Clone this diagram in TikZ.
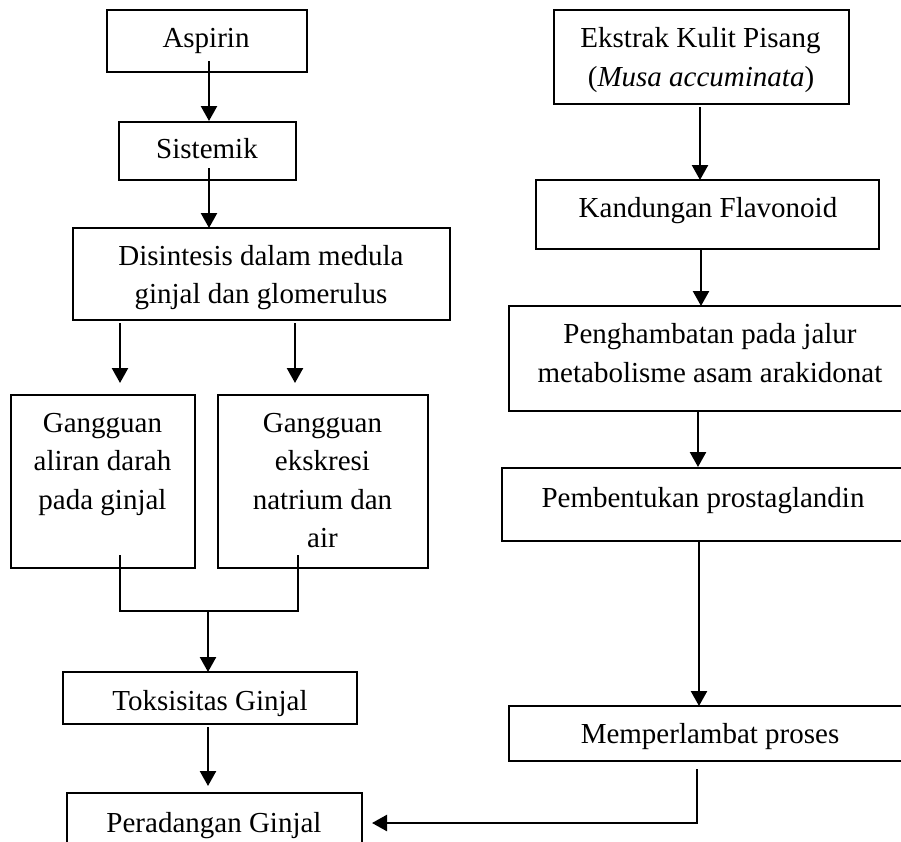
\documentclass[tikz,border=0pt]{standalone}
\usepackage{fontspec}
\setmainfont{Liberation Serif}
\usetikzlibrary{arrows.meta,calc}
\begin{document}
\begin{tikzpicture}[x=1pt,y=-1pt,
  box/.style={draw=black,line width=2.2pt,inner sep=0pt,outer sep=0pt,rectangle},
  txt/.style={anchor=base,inner sep=0pt,font=\fontsize{29}{38}\selectfont},
  arr/.style={line width=2.4pt,-{Triangle[width=16pt,length=15pt]}},
  ln/.style={line width=2.4pt}]
\useasboundingbox (0,0) rectangle (901,841);
\clip (0,0) rectangle (901,841);
% left column boxes
\node[box,minimum width=200pt,minimum height=62pt] (asp) at (207,41) {};
\node[box,minimum width=177pt,minimum height=58pt] (sis) at (207.5,151) {};
\node[box,minimum width=377pt,minimum height=92pt] (dis) at (261.5,274) {};
\node[box,minimum width=184pt,minimum height=173pt] (g1) at (103,481.5) {};
\node[box,minimum width=210pt,minimum height=173pt] (g2) at (323,481.5) {};
\node[box,minimum width=294pt,minimum height=52pt] (tok) at (210,698) {};
\node[box,minimum width=295pt,minimum height=60pt] (per) at (214.5,823) {};
% right column boxes
\node[box,minimum width=295pt,minimum height=94pt] (eks) at (701.5,57) {};
\node[box,minimum width=343pt,minimum height=69pt] (kan) at (707.5,214.5) {};
\node[box,minimum width=411pt,minimum height=105pt] (pen) at (714.5,358.5) {};
\node[box,minimum width=418pt,minimum height=73pt] (pem) at (711,504.5) {};
\node[box,minimum width=411pt,minimum height=55pt] (mem) at (714.5,733.5) {};
% texts
\node[txt] (tasp) at (206,47) {Aspirin};
\node[txt] (tsis) at (207,158) {Sistemik};
\node[txt] (tdis1) at (261,265) {Disintesis dalam medula};
\node[txt] (tdis2) at (261,303) {ginjal dan glomerulus};
\node[txt] (tg1a) at (102.5,432) {Gangguan};
\node[txt] (tg1b) at (102.5,470.5) {aliran darah};
\node[txt] (tg1c) at (102.5,509) {pada ginjal};
\node[txt] (tg2a) at (322.5,432) {Gangguan};
\node[txt] (tg2b) at (322.5,470.5) {ekskresi};
\node[txt] (tg2c) at (322.5,509) {natrium dan};
\node[txt] (tg2d) at (322.5,547.5) {air};
\node[txt] (ttok) at (210,710) {Toksisitas Ginjal};
\node[txt] (tper) at (214,832) {Peradangan Ginjal};
\node[txt] (teks1) at (700.5,47) {Ekstrak Kulit Pisang};
\node[txt] (teks2) at (701,86) {(\textit{Musa accuminata})};
\node[txt] (tkan) at (708,217) {Kandungan Flavonoid};
\node[txt] (tpen1) at (710,343) {Penghambatan pada jalur};
\node[txt] (tpen2) at (710,382) {metabolisme asam arakidonat};
\node[txt] (tpem) at (703,507) {Pembentukan prostaglandin};
\node[txt] (tmem) at (710,743) {Memperlambat proses};
% connectors left
\draw[arr] ($(asp.south)+(2,-11)$) -- ($(sis.north)+(1.5,-1)$);
\draw[arr] ($(sis.south)+(1.5,-12)$) -- ($(sis.south |- dis.north)+(1.5,0)$);
\draw[arr] ($(g1.north |- dis.south)+(17,3)$) -- ($(g1.north)+(17,-12)$);
\draw[arr] ($(g2.north |- dis.south)+(-28,3)$) -- ($(g2.north)+(-28,-12)$);
\coordinate (m) at (208,611);
\draw[ln] ($(g1.south)+(17,-13)$) |- ($(g2.south)+(-25,43)$) -- ($(g2.south)+(-25,-13)$);
\draw[arr] (m) -- ($(tok.north)+(-2,0)$);
\draw[arr] ($(tok.south)+(-2,3)$) -- ($(per.north)+(-6.5,-7)$);
% connectors right
\draw[arr] ($(eks.south)+(-1.5,3)$) -- ($(eks.south |- kan.north)+(-1.5,0)$);
\draw[arr] ($(kan.south)+(-6.5,0)$) -- ($(kan.south |- pen.north)+(-6.5,0)$);
\draw[arr] ($(pen.south)+(-16.5,0)$) -- ($(pen.south |- pem.north)+(-16.5,-1)$);
\draw[arr] ($(pem.south)+(-12,0)$) -- ($(pem.south |- mem.north)+(-12,0)$);
\draw[arr] ($(mem.south)+(-17.5,8)$) |- ($(per.east)+(10,0)$);
\end{tikzpicture}
\end{document}
